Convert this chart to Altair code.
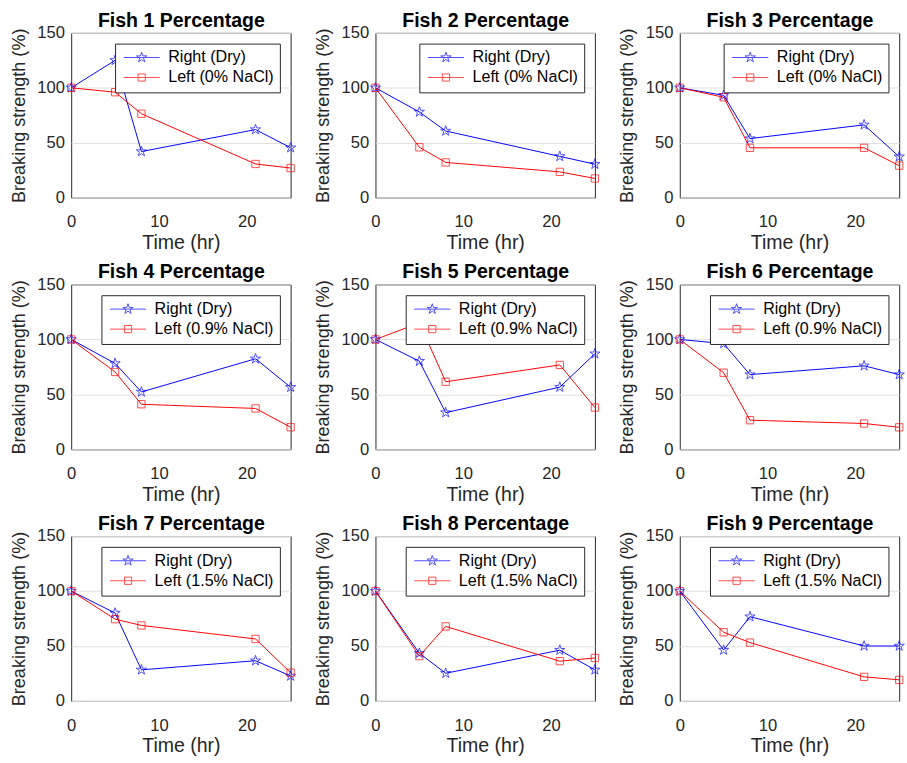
import math

import altair as alt
import pandas as pd

# Sampling times (hours)
times = [0, 5, 8, 21, 25]

# Breaking strength, % of initial value, for each fish
right_dry = [
    [100, 125, 42, 62, 45.5],
    [100, 78, 60.7, 37.6, 30.5],
    [100, 93.2, 53.8, 66.3, 37.3],
    [100, 78.2, 52.2, 82.4, 56.5],
    [100, 80.2, 33.4, 56.6, 87],
    [100, 96.2, 68, 76, 68],
    [100, 80, 28.3, 36.6, 22.7],
    [100, 43.4, 25.2, 46.2, 28.3],
    [100, 46.3, 76.7, 50, 50],
]
left_salt = [
    [100, 96, 76.4, 30.7, 27],
    [100, 45.9, 32.1, 23.5, 17.5],
    [100, 91.4, 45.4, 45.4, 29.2],
    [100, 70.4, 41, 37.2, 20.1],
    [100, 115, 61.5, 76.8, 38],
    [100, 69.7, 26.5, 23.5, 20],
    [100, 74.4, 68.7, 56.4, 25.7],
    [100, 40.8, 67.8, 36.2, 39.1],
    [100, 62.5, 53.1, 21.9, 19.2],
]
salt_levels = ["0%", "0%", "0%", "0.9%", "0.9%", "0.9%", "1.5%", "1.5%", "1.5%"]

BLUE = "#0000ff"
RED = "#ff0000"
INK = "#262626"
FONT = "Liberation Sans"


def star_path(r):
    """Five-pointed star (pentagram) centred on the origin, outer radius r."""
    pts = []
    for k in range(10):
        ang = math.radians(-90 + 36 * k)
        rad = r if k % 2 == 0 else r * 0.382
        pts.append(f"{rad * math.cos(ang):.3f},{rad * math.sin(ang):.3f}")
    return "M" + "L".join(pts) + "Z"


STAR = star_path(1)
# Legend keys: a short line segment with the marker in the middle
KEY_STAR = "M-3.7,0L3.7,0" + star_path(1.1)
KEY_SQUARE = "M-3.7,0L3.7,0M-0.74,-0.74L0.74,-0.74L0.74,0.74L-0.74,0.74Z"

X_SCALE = alt.Scale(domain=[0, 25], nice=False, zero=False)
Y_ENC = alt.Y(
    "value:Q",
    scale=alt.Scale(domain=[0, 150], nice=False),
    axis=alt.Axis(values=[0, 50, 100, 150], title="Breaking strength (%)"),
)


def panel(i):
    right_name = "Right (Dry)"
    left_name = f"Left ({salt_levels[i]} NaCl)"
    names = [right_name, left_name]
    df = pd.DataFrame(
        {
            "time": times * 2,
            "value": right_dry[i] + left_salt[i],
            "series": [right_name] * len(times) + [left_name] * len(times),
        }
    )
    base = alt.Chart(df).encode(
        x=alt.X(
            "time:Q",
            scale=X_SCALE,
            axis=alt.Axis(values=[0, 10, 20], title="Time (hr)"),
        ),
        y=Y_ENC,
    )
    # Legend-only layer: draws nothing, carries the colour/shape keys and
    # the panel heading (as the title of a bare top axis)
    key = (
        alt.Chart(df)
        .transform_filter("false")
        .mark_point(filled=False, strokeWidth=1)
        .encode(
            x=alt.X(
                "time:Q",
                scale=X_SCALE,
                axis=alt.Axis(
                    orient="top",
                    title=f"Fish {i + 1} Percentage",
                    labels=False,
                    ticks=False,
                    domain=False,
                    grid=False,
                    titleFont=FONT,
                    titleFontSize=20,
                    titleFontWeight="bold",
                    titleColor="black",
                    titlePadding=3,
                ),
            ),
            y=Y_ENC,
            color=alt.Color(
                "series:N",
                scale=alt.Scale(domain=names, range=[BLUE, RED]),
                legend=alt.Legend(
                    title=None,
                    orient="top-right",
                    offset=11,
                    padding=6,
                    rowPadding=3.5,
                    fillColor="white",
                    strokeColor=INK,
                    symbolSize=100,
                    symbolStrokeWidth=1,
                    symbolOffset=13,
                    labelOffset=19,
                    labelFont=FONT,
                    labelFontSize=16.5,
                    labelColor="black",
                    labelLimit=300,
                ),
            ),
            shape=alt.Shape(
                "series:N",
                scale=alt.Scale(domain=names, range=[KEY_STAR, KEY_SQUARE]),
            ),
        )
    )
    lines = base.mark_line(strokeWidth=1, clip=False).encode(
        color=alt.Color("series:N", legend=None), order="time:Q"
    )
    stars = base.transform_filter(alt.datum.series == right_name).mark_point(
        shape=STAR, size=121, filled=False, strokeWidth=1, color=BLUE
    )
    squares = base.transform_filter(alt.datum.series == left_name).mark_point(
        shape="square", size=56, filled=False, strokeWidth=1, color=RED
    )
    data_layers = alt.layer(lines, stars, squares)
    return (
        alt.layer(key, data_layers)
        .resolve_axis(x="independent")
        .properties(width=225, height=169)
    )


rows = []
for r in range(3):
    row = alt.hconcat(*[panel(3 * r + c) for c in range(3)], spacing=15)
    row = row.resolve_scale(color="independent", shape="independent").resolve_legend(
        color="independent", shape="independent"
    )
    rows.append(row)

chart = (
    alt.vconcat(*rows, spacing=8)
    .resolve_scale(color="independent", shape="independent")
    .resolve_legend(color="independent", shape="independent")
    .properties(padding={"left": 9, "top": 0, "right": 0, "bottom": 0})
    .configure(background="white")
    .configure_view(stroke=INK, strokeWidth=1)
    .configure_axis(
        domain=False,
        ticks=False,
        tickSize=0,
        grid=True,
        gridColor="#dfdfdf",
        gridWidth=1,
        labelFont=FONT,
        labelFontSize=17,
        labelColor=INK,
        labelFlush=False,
        titleFont=FONT,
        titleFontWeight="normal",
        titleColor=INK,
    )
    .configure_axisBottom(labelPadding=17, titlePadding=3, titleFontSize=20)
    .configure_axisLeft(labelPadding=7, titlePadding=9, titleFontSize=18.5)
)

chart.save("out.html", embed_options={"renderer": "svg", "actions": False})
